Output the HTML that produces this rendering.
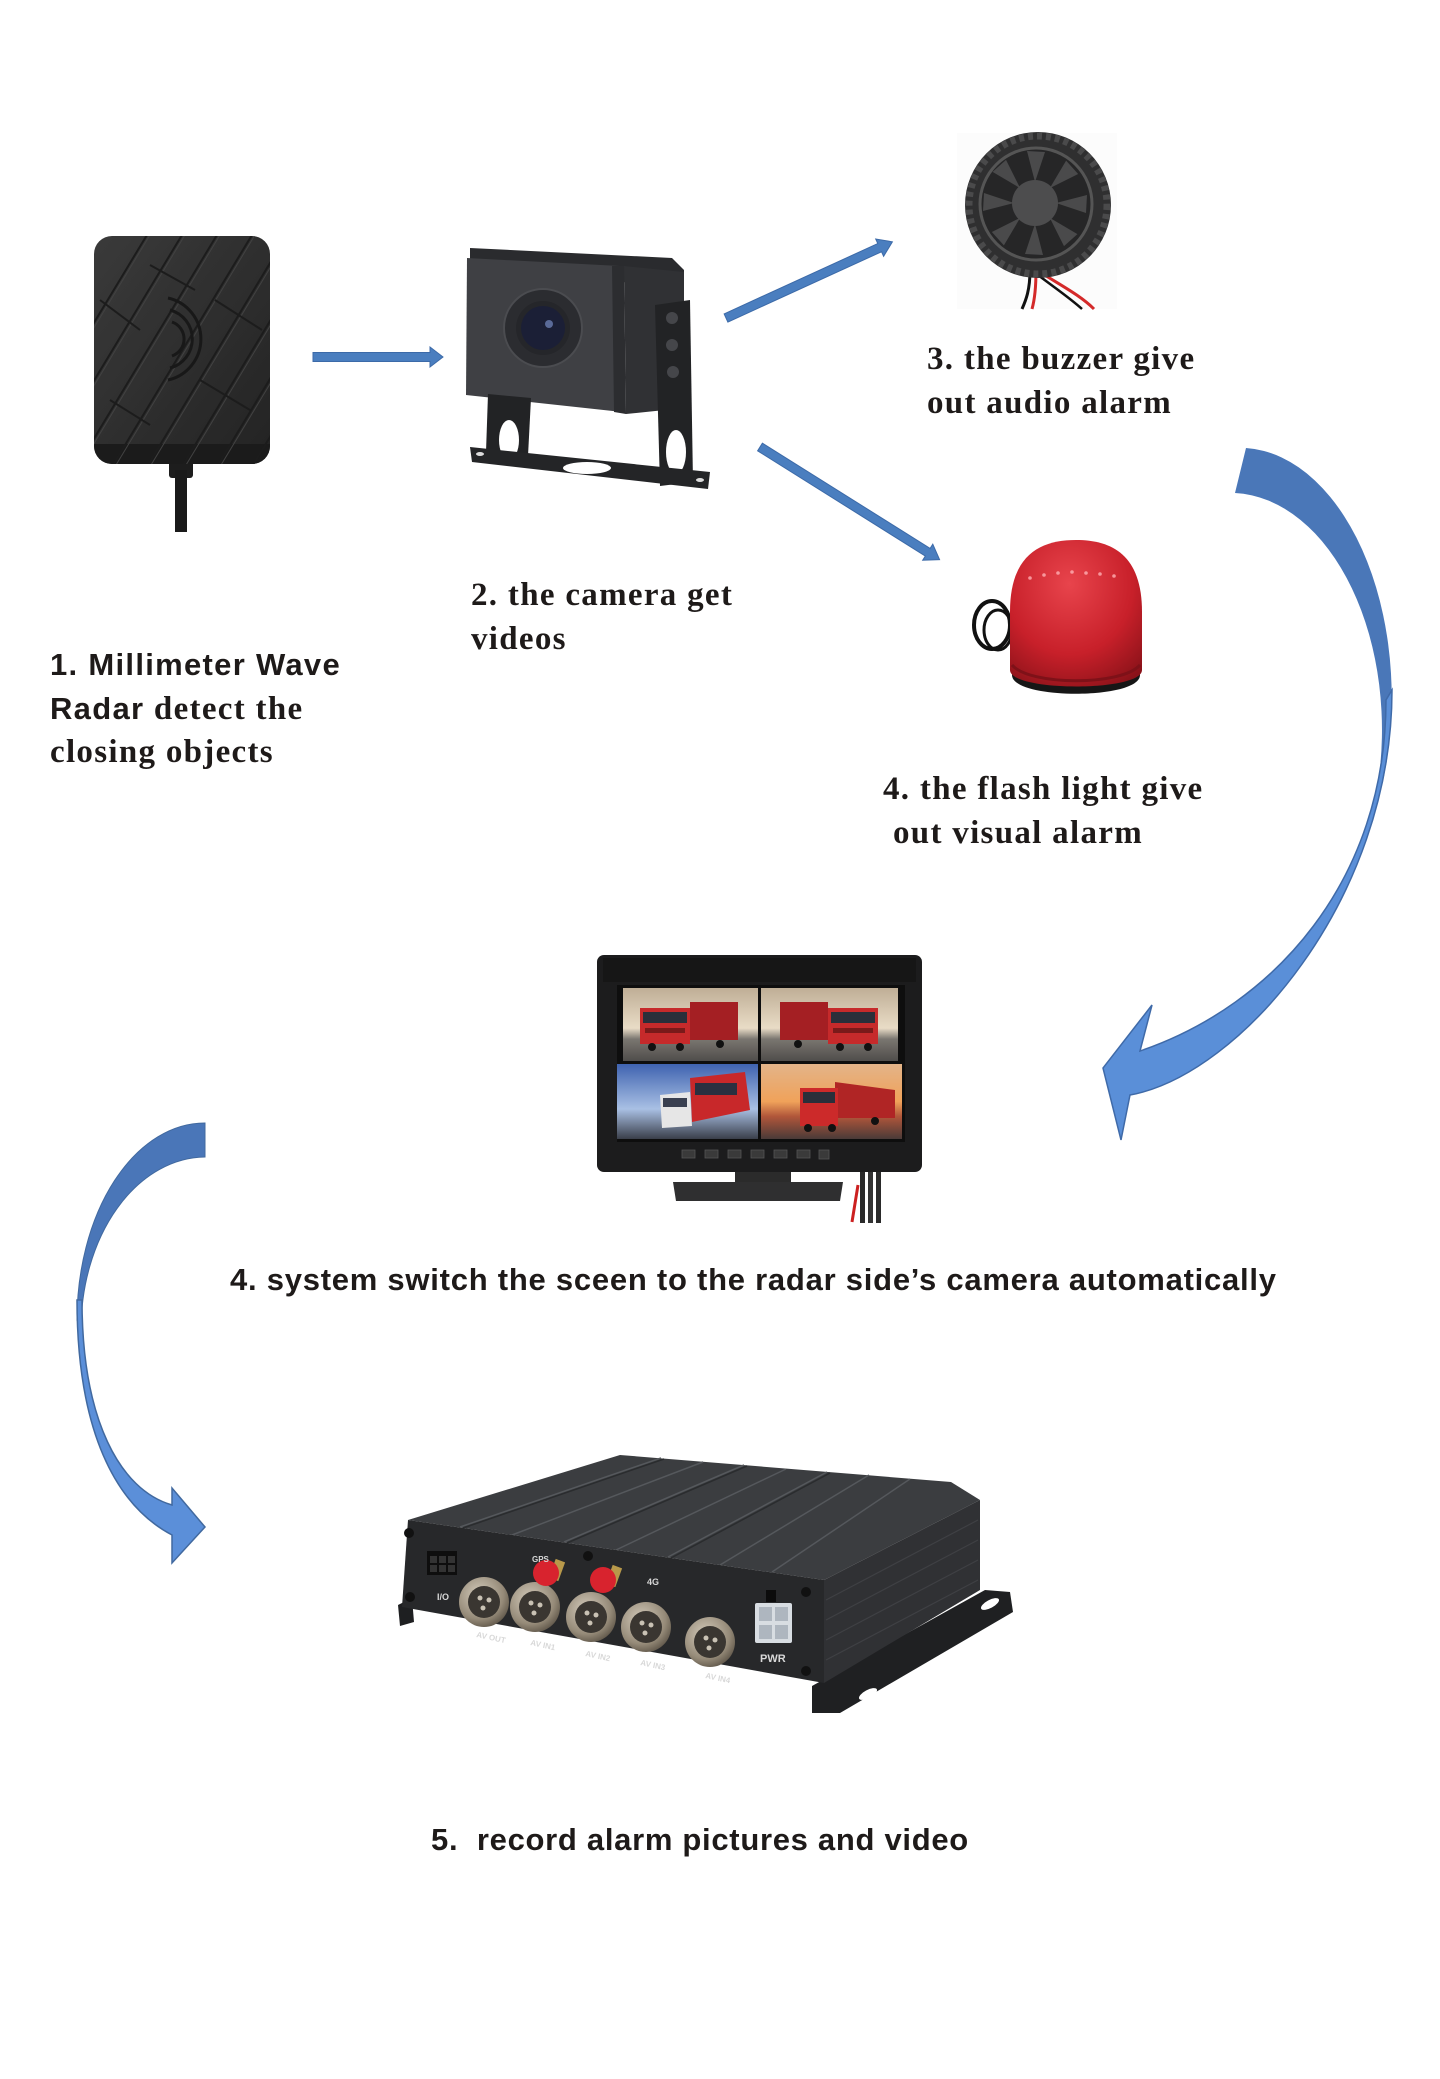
<!DOCTYPE html>
<html>
<head>
<meta charset="utf-8">
<style>
  html,body{margin:0;padding:0;background:#fff;}
  body{width:1440px;height:2079px;overflow:hidden;}
  svg{display:block;}
  .serif{font-family:"Liberation Serif",serif;font-weight:bold;font-size:33px;letter-spacing:1.3px;fill:#1e1a19;}
  .sans{font-family:"Liberation Sans",sans-serif;font-weight:bold;font-size:31px;fill:#1e1a19;}
  .lbl{font-family:"Liberation Sans",sans-serif;font-weight:bold;fill:#d8d8d8;}
</style>
</head>
<body>
<svg width="1440" height="2079" viewBox="0 0 1440 2079" xmlns="http://www.w3.org/2000/svg">
<defs>
  <linearGradient id="gRadar" x1="0" y1="0" x2="1" y2="1">
    <stop offset="0" stop-color="#3a3a3a"/>
    <stop offset="1" stop-color="#232323"/>
  </linearGradient>
  <clipPath id="radarClip"><rect x="94" y="236" width="176" height="228" rx="18"/></clipPath>
  <linearGradient id="gTL" x1="0" y1="0" x2="0" y2="1">
    <stop offset="0" stop-color="#bfae96"/><stop offset="0.55" stop-color="#e9dcc6"/><stop offset="0.7" stop-color="#7a7670"/><stop offset="1" stop-color="#4f4d4b"/>
  </linearGradient>
  <linearGradient id="gBL" x1="0" y1="0" x2="0" y2="1">
    <stop offset="0" stop-color="#3f63b0"/><stop offset="0.6" stop-color="#a9c0e4"/><stop offset="1" stop-color="#3a3f4a"/>
  </linearGradient>
  <linearGradient id="gBR" x1="0" y1="0" x2="0" y2="1">
    <stop offset="0" stop-color="#e3b489"/><stop offset="0.5" stop-color="#f0a25a"/><stop offset="0.7" stop-color="#b0563a"/><stop offset="1" stop-color="#4a3a38"/>
  </linearGradient>
  <radialGradient id="gDome" cx="0.45" cy="0.3" r="0.8">
    <stop offset="0" stop-color="#e8444c"/><stop offset="0.6" stop-color="#c8202a"/><stop offset="1" stop-color="#8a1219"/>
  </radialGradient>
  <radialGradient id="gConn" cx="0.4" cy="0.35" r="0.7">
    <stop offset="0" stop-color="#d4cbbb"/><stop offset="0.7" stop-color="#958a78"/><stop offset="1" stop-color="#5e5548"/>
  </radialGradient>
</defs>

<!-- ============ RADAR ============ -->
<rect x="169" y="456" width="24" height="22" rx="3" fill="#1d1d1d"/>
<rect x="175" y="470" width="12" height="62" fill="#1a1a1a"/>
<rect x="94" y="236" width="176" height="228" rx="18" fill="url(#gRadar)"/>
<g clip-path="url(#radarClip)">
  <rect x="94" y="444" width="176" height="22" fill="#1b1b1b"/>
  <g stroke="#1c1c1c" stroke-width="2">
    <line x1="40" y1="470" x2="185" y2="230"/><line x1="75" y1="470" x2="220" y2="230"/>
    <line x1="110" y1="470" x2="255" y2="230"/><line x1="145" y1="470" x2="290" y2="230"/>
    <line x1="180" y1="470" x2="325" y2="230"/><line x1="215" y1="470" x2="360" y2="230"/>
    <line x1="250" y1="470" x2="395" y2="230"/><line x1="5" y1="470" x2="150" y2="230"/>
  </g>
  <g stroke="#424242" stroke-width="1">
    <line x1="43" y1="470" x2="188" y2="230"/><line x1="78" y1="470" x2="223" y2="230"/>
    <line x1="113" y1="470" x2="258" y2="230"/><line x1="148" y1="470" x2="293" y2="230"/>
    <line x1="183" y1="470" x2="328" y2="230"/><line x1="218" y1="470" x2="363" y2="230"/>
    <line x1="8" y1="470" x2="153" y2="230"/>
  </g>
  <g stroke="#1c1c1c" stroke-width="2">
    <line x1="100" y1="300" x2="140" y2="330"/><line x1="150" y1="265" x2="195" y2="290"/>
    <line x1="200" y1="380" x2="250" y2="410"/><line x1="110" y1="400" x2="150" y2="425"/>
    <line x1="215" y1="300" x2="262" y2="330"/>
  </g>
  <g fill="none" stroke="#181818" stroke-width="3">
    <path d="M172,322 A18,18 0 0 1 172,356"/>
    <path d="M170,310 A30,30 0 0 1 170,368"/>
    <path d="M168,298 A42,42 0 0 1 168,380"/>
  </g>
</g>

<!-- arrow 1 -->
<polygon points="313,352.5 430,352.5 430,347 443,357 430,367 430,361.5 313,361.5" fill="#4a7ebf" stroke="#3c6aa8" stroke-width="1"/>

<!-- ============ CAMERA ============ -->
<polygon points="470,248 672,258 684,270 684,290 470,262" fill="#2a2b2e"/>
<polygon points="467,258 620,266 622,412 466,395" fill="#3f4044"/>
<polygon points="612,266 624,266 626,414 614,412" fill="#2c2d30"/>
<polygon points="624,266 684,272 684,408 626,414" fill="#303134"/>
<circle cx="543" cy="328" r="39" fill="#2b2c30" stroke="#4b4c50" stroke-width="2"/>
<circle cx="543" cy="328" r="27" fill="#25262a"/>
<circle cx="543" cy="328" r="22" fill="#1b1f36"/>
<circle cx="549" cy="324" r="4" fill="#5a6a98"/>
<polygon points="655,305 690,300 693,482 660,486" fill="#222325"/>
<ellipse cx="676" cy="452" rx="10" ry="22" fill="#ffffff"/>
<circle cx="672" cy="318" r="6" fill="#45464a"/>
<circle cx="672" cy="345" r="6" fill="#45464a"/>
<circle cx="673" cy="372" r="6" fill="#45464a"/>
<polygon points="488,394 531,398 528,456 486,452" fill="#222325"/>
<ellipse cx="509" cy="440" rx="10" ry="20" fill="#ffffff"/>
<polygon points="470,447 710,472 708,489 472,462" fill="#242527"/>
<ellipse cx="587" cy="468" rx="24" ry="6" fill="#ffffff"/>
<ellipse cx="480" cy="454" rx="4" ry="2" fill="#ddd"/>
<ellipse cx="700" cy="480" rx="4" ry="2" fill="#ddd"/>

<!-- arrows 2,3 -->
<g transform="translate(726,318) rotate(-24.6)">
  <polygon points="0,-4.5 169,-4.5 169,-9.5 183,0 169,9.5 169,4.5 0,4.5" fill="#4a7ebf" stroke="#3c6aa8" stroke-width="1"/>
</g>
<g transform="translate(760,447) rotate(32.1)">
  <polygon points="0,-4.5 198,-4.5 198,-9.5 212,0 198,9.5 198,4.5 0,4.5" fill="#4a7ebf" stroke="#3c6aa8" stroke-width="1"/>
</g>

<!-- ============ BUZZER ============ -->
<rect x="957" y="133" width="160" height="176" fill="#fcfcfc"/>
<path d="M1030,270 C1030,290 1026,300 1022,309" stroke="#111" stroke-width="3" fill="none"/>
<path d="M1036,270 C1036,292 1034,302 1032,309" stroke="#d42a2a" stroke-width="3" fill="none"/>
<path d="M1040,272 C1060,285 1080,295 1094,309" stroke="#d42a2a" stroke-width="3" fill="none"/>
<path d="M1034,272 C1055,288 1070,298 1082,309" stroke="#111" stroke-width="2.5" fill="none"/>
<circle cx="1038" cy="205" r="73" fill="#2f2f30"/>
<circle cx="1038" cy="205" r="69" fill="none" stroke="#4a4a4b" stroke-width="7" stroke-dasharray="5 4"/>
<circle cx="1036" cy="204" r="56" fill="#262627" stroke="#555" stroke-width="3"/>
<g transform="translate(1035,203)" fill="#4a4a4b">
  <path d="M0,-21 L10,-51 L-8,-52 Z"/>
  <path d="M0,-21 L10,-51 L-8,-52 Z" transform="rotate(45)"/>
  <path d="M0,-21 L10,-51 L-8,-52 Z" transform="rotate(90)"/>
  <path d="M0,-21 L10,-51 L-8,-52 Z" transform="rotate(135)"/>
  <path d="M0,-21 L10,-51 L-8,-52 Z" transform="rotate(180)"/>
  <path d="M0,-21 L10,-51 L-8,-52 Z" transform="rotate(225)"/>
  <path d="M0,-21 L10,-51 L-8,-52 Z" transform="rotate(270)"/>
  <path d="M0,-21 L10,-51 L-8,-52 Z" transform="rotate(315)"/>
</g>
<circle cx="1035" cy="203" r="23" fill="#4d4d4e"/>

<!-- ============ FLASH LIGHT ============ -->
<ellipse cx="992" cy="625" rx="18" ry="24" fill="none" stroke="#111" stroke-width="4"/>
<ellipse cx="998" cy="630" rx="14" ry="20" fill="none" stroke="#111" stroke-width="3"/>
<path d="M1012,675 C1012,700 1140,700 1140,675 L1140,668 L1012,668 Z" fill="#161616"/>
<path d="M1010,612 C1010,555 1040,540 1076,540 C1112,540 1142,555 1142,612 L1142,670 C1142,692 1010,692 1010,670 Z" fill="url(#gDome)"/>
<path d="M1012,665 C1030,686 1122,686 1140,665" stroke="#7e1118" stroke-width="3" fill="none"/>
<g fill="#ffb0b4" opacity="0.8">
  <circle cx="1030" cy="578" r="1.8"/><circle cx="1044" cy="575" r="1.8"/><circle cx="1058" cy="573" r="1.8"/>
  <circle cx="1072" cy="572" r="1.8"/><circle cx="1086" cy="573" r="1.8"/><circle cx="1100" cy="574" r="1.8"/><circle cx="1114" cy="576" r="1.8"/>
</g>

<!-- ============ RIGHT CURVED ARROW ============ -->
<path d="M1246,448 A152,250 0 0 1 1381,790 L1377,790 A152,237 0 0 0 1235,493 Z" fill="#4a77b8"/>
<path d="M1392,690 C1392,900 1240,1075 1130,1095 L1121,1140 L1103,1068 L1152,1005 L1140,1051 C1275,1005 1386,880 1386,700 Z" fill="#5a8fd8" stroke="#3f6aa8" stroke-width="1.5" stroke-linejoin="miter"/>

<!-- ============ MONITOR ============ -->
<rect x="860" y="1165" width="5" height="58" fill="#2a2a2a"/>
<rect x="868" y="1165" width="5" height="58" fill="#333"/>
<rect x="876" y="1165" width="5" height="58" fill="#2a2a2a"/>
<path d="M858,1185 L852,1222" stroke="#cc2020" stroke-width="3"/>
<rect x="735" y="1168" width="56" height="16" fill="#2b2b2b"/>
<polygon points="673,1182 843,1182 840,1201 676,1201" fill="#2f2f30"/>
<rect x="597" y="955" width="325" height="217" rx="7" fill="#1c1c1d"/>
<rect x="603" y="958" width="313" height="24" fill="#161616"/>
<rect x="617" y="985" width="288" height="157" fill="#0e0e0e"/>
<rect x="623" y="988" width="135" height="73" fill="url(#gTL)"/>
<rect x="761" y="988" width="137" height="73" fill="url(#gTL)"/>
<rect x="617" y="1064" width="141" height="75" fill="url(#gBL)"/>
<rect x="761" y="1064" width="141" height="75" fill="url(#gBR)"/>
<!-- trucks TL -->
<rect x="690" y="1002" width="48" height="38" fill="#a41f23"/>
<rect x="640" y="1008" width="50" height="36" fill="#c62a2b"/>
<rect x="643" y="1012" width="44" height="11" fill="#2a2f3a"/>
<rect x="645" y="1028" width="40" height="5" fill="#7a1a1a"/>
<circle cx="652" cy="1047" r="4" fill="#111"/><circle cx="680" cy="1047" r="4" fill="#111"/><circle cx="720" cy="1044" r="4" fill="#111"/>
<!-- trucks TR -->
<rect x="780" y="1002" width="48" height="38" fill="#a41f23"/>
<rect x="828" y="1008" width="50" height="36" fill="#c62a2b"/>
<rect x="831" y="1012" width="44" height="11" fill="#2a2f3a"/>
<rect x="833" y="1028" width="40" height="5" fill="#7a1a1a"/>
<circle cx="840" cy="1047" r="4" fill="#111"/><circle cx="868" cy="1047" r="4" fill="#111"/><circle cx="798" cy="1044" r="4" fill="#111"/>
<!-- trucks BL -->
<polygon points="690,1078 745,1072 750,1110 692,1122" fill="#c8282a"/>
<rect x="695" y="1083" width="42" height="12" fill="#2a3040"/>
<polygon points="660,1095 690,1092 692,1126 662,1128" fill="#e6e6e6"/>
<rect x="663" y="1098" width="24" height="9" fill="#3a4050"/>
<!-- trucks BR -->
<polygon points="835,1082 895,1090 895,1118 835,1118" fill="#b02525"/>
<rect x="800" y="1088" width="38" height="38" fill="#cc2a2a"/>
<rect x="803" y="1092" width="32" height="11" fill="#2a2f3a"/>
<circle cx="808" cy="1128" r="4" fill="#111"/><circle cx="832" cy="1128" r="4" fill="#111"/><circle cx="875" cy="1121" r="4" fill="#111"/>
<!-- buttons -->
<g fill="#3a3a3a" stroke="#555" stroke-width="0.8">
  <rect x="682" y="1150" width="13" height="8"/><rect x="705" y="1150" width="13" height="8"/>
  <rect x="728" y="1150" width="13" height="8"/><rect x="751" y="1150" width="13" height="8"/>
  <rect x="774" y="1150" width="13" height="8"/><rect x="797" y="1150" width="13" height="8"/>
  <rect x="819" y="1150" width="10" height="9"/>
</g>

<!-- ============ LEFT CURVED ARROW ============ -->
<path d="M205,1123 A128,197 0 0 0 77,1320 L81,1330 A125,173 0 0 1 205,1157 Z" fill="#4a76b8" stroke="#41699f" stroke-width="1"/>
<path d="M77,1300 C77,1430 115,1505 172,1535 L172,1563 L205,1527 L172,1488 L172,1505 C120,1490 82,1420 82,1300 Z" fill="#5b8fd9" stroke="#41699f" stroke-width="1.5"/>

<!-- ============ DVR ============ -->
<polygon points="398,1605 412,1598 414,1622 400,1626" fill="#1e1f21"/>
<polygon points="812,1686 985,1590 1010,1592 1013,1612 840,1713 812,1713" fill="#1f2022"/>
<ellipse cx="990" cy="1604" rx="10" ry="4" fill="#fff" transform="rotate(-28 990 1604)"/>
<ellipse cx="868" cy="1694" rx="10" ry="4" fill="#fff" transform="rotate(-28 868 1694)"/>
<polygon points="408,1520 620,1455 951,1482 980,1500 824,1580" fill="#3b3d40"/>
<g stroke="#55585c" stroke-width="1.5">
  <line x1="460" y1="1527" x2="661" y2="1458"/>
  <line x1="512" y1="1535" x2="703" y2="1462"/>
  <line x1="564" y1="1542" x2="744" y2="1465"/>
  <line x1="616" y1="1550" x2="786" y2="1469"/>
  <line x1="668" y1="1557" x2="827" y2="1472"/>
  <line x1="720" y1="1565" x2="869" y2="1475"/>
  <line x1="772" y1="1572" x2="910" y2="1479"/>
</g>
<g stroke="#2a2c2e" stroke-width="1.5">
  <line x1="463" y1="1528" x2="664" y2="1459"/>
  <line x1="567" y1="1543" x2="747" y2="1466"/>
  <line x1="671" y1="1558" x2="830" y2="1473"/>
</g>
<polygon points="408,1520 824,1580 824,1683 402,1607" fill="#27282a"/>
<polygon points="824,1580 980,1500 980,1590 824,1683" fill="#303134"/>
<g stroke="#3f4044" stroke-width="1.2">
  <line x1="826" y1="1600" x2="978" y2="1520"/>
  <line x1="826" y1="1620" x2="978" y2="1540"/>
  <line x1="826" y1="1640" x2="978" y2="1560"/>
  <line x1="826" y1="1660" x2="978" y2="1580"/>
</g>
<g fill="#111">
  <circle cx="409" cy="1533" r="5"/><circle cx="410" cy="1597" r="5"/>
  <circle cx="806" cy="1592" r="5"/><circle cx="806" cy="1671" r="5"/><circle cx="588" cy="1556" r="5"/>
</g>
<rect x="427" y="1551" width="30" height="24" fill="#0e0e0e"/>
<g fill="#333"><rect x="430" y="1556" width="7" height="7"/><rect x="439" y="1556" width="7" height="7"/><rect x="448" y="1556" width="7" height="7"/>
<rect x="430" y="1565" width="7" height="7"/><rect x="439" y="1565" width="7" height="7"/><rect x="448" y="1565" width="7" height="7"/></g>
<rect x="755" y="1603" width="37" height="40" rx="2" fill="#d8dde2"/>
<g fill="#aeb6bf"><rect x="759" y="1607" width="13" height="14"/><rect x="775" y="1607" width="13" height="14"/><rect x="759" y="1625" width="13" height="14"/><rect x="775" y="1625" width="13" height="14"/></g>
<rect x="766" y="1590" width="10" height="12" fill="#0c0c0c"/>
<g>
  <circle cx="484" cy="1602" r="25" fill="url(#gConn)"/><circle cx="484" cy="1602" r="16" fill="#3a3631"/>
  <circle cx="535" cy="1607" r="25" fill="url(#gConn)"/><circle cx="535" cy="1607" r="16" fill="#3a3631"/>
  <circle cx="591" cy="1617" r="25" fill="url(#gConn)"/><circle cx="591" cy="1617" r="16" fill="#3a3631"/>
  <circle cx="646" cy="1627" r="25" fill="url(#gConn)"/><circle cx="646" cy="1627" r="16" fill="#3a3631"/>
  <circle cx="710" cy="1642" r="25" fill="url(#gConn)"/><circle cx="710" cy="1642" r="16" fill="#3a3631"/>
</g>
<g fill="#c9c2b4">
  <circle cx="480" cy="1598" r="2.5"/><circle cx="489" cy="1600" r="2.5"/><circle cx="483" cy="1608" r="2.5"/>
  <circle cx="531" cy="1603" r="2.5"/><circle cx="540" cy="1605" r="2.5"/><circle cx="534" cy="1613" r="2.5"/>
  <circle cx="587" cy="1613" r="2.5"/><circle cx="596" cy="1615" r="2.5"/><circle cx="590" cy="1623" r="2.5"/>
  <circle cx="642" cy="1623" r="2.5"/><circle cx="651" cy="1625" r="2.5"/><circle cx="645" cy="1633" r="2.5"/>
  <circle cx="706" cy="1638" r="2.5"/><circle cx="715" cy="1640" r="2.5"/><circle cx="709" cy="1648" r="2.5"/>
</g>
<rect x="552" y="1560" width="10" height="20" fill="#b8994a" transform="rotate(20 557 1570)"/>
<rect x="609" y="1566" width="10" height="20" fill="#b8994a" transform="rotate(20 614 1576)"/>
<circle cx="546" cy="1573" r="13" fill="#d8232e"/>
<circle cx="603" cy="1580" r="13" fill="#d8232e"/>
<text class="lbl" x="437" y="1600" font-size="9">I/O</text>
<text class="lbl" x="476" y="1637" font-size="8" transform="rotate(12 476 1637)">AV OUT</text>
<text class="lbl" x="530" y="1645" font-size="8" transform="rotate(12 530 1645)">AV IN1</text>
<text class="lbl" x="585" y="1656" font-size="8" transform="rotate(12 585 1656)">AV IN2</text>
<text class="lbl" x="640" y="1665" font-size="8" transform="rotate(12 640 1665)">AV IN3</text>
<text class="lbl" x="705" y="1678" font-size="8" transform="rotate(12 705 1678)">AV IN4</text>
<text class="lbl" x="532" y="1562" font-size="8">GPS</text>
<text class="lbl" x="647" y="1585" font-size="9">4G</text>
<text class="lbl" x="760" y="1662" font-size="11">PWR</text>

<!-- ============ TEXT ============ -->
<text class="sans" x="50" y="675" letter-spacing="1.3">1. Millimeter Wave</text>
<text x="50" y="719"><tspan class="sans" letter-spacing="1.3">Radar</tspan><tspan class="serif"> detect the</tspan></text>
<text class="serif" x="50" y="762">closing objects</text>

<text class="serif" x="471" y="605">2. the camera get</text>
<text class="serif" x="471" y="649">videos</text>

<text class="serif" x="927" y="369">3. the buzzer give</text>
<text class="serif" x="927" y="413">out audio alarm</text>

<text class="serif" x="883" y="799">4. the flash light give</text>
<text class="serif" x="893" y="843">out visual alarm</text>

<text class="sans" x="230" y="1290" letter-spacing="0.75">4. system switch the sceen to the radar side’s camera automatically</text>

<text class="sans" x="431" y="1850" letter-spacing="0.7">5.&#160; record alarm pictures and video</text>
</svg>
</body>
</html>
